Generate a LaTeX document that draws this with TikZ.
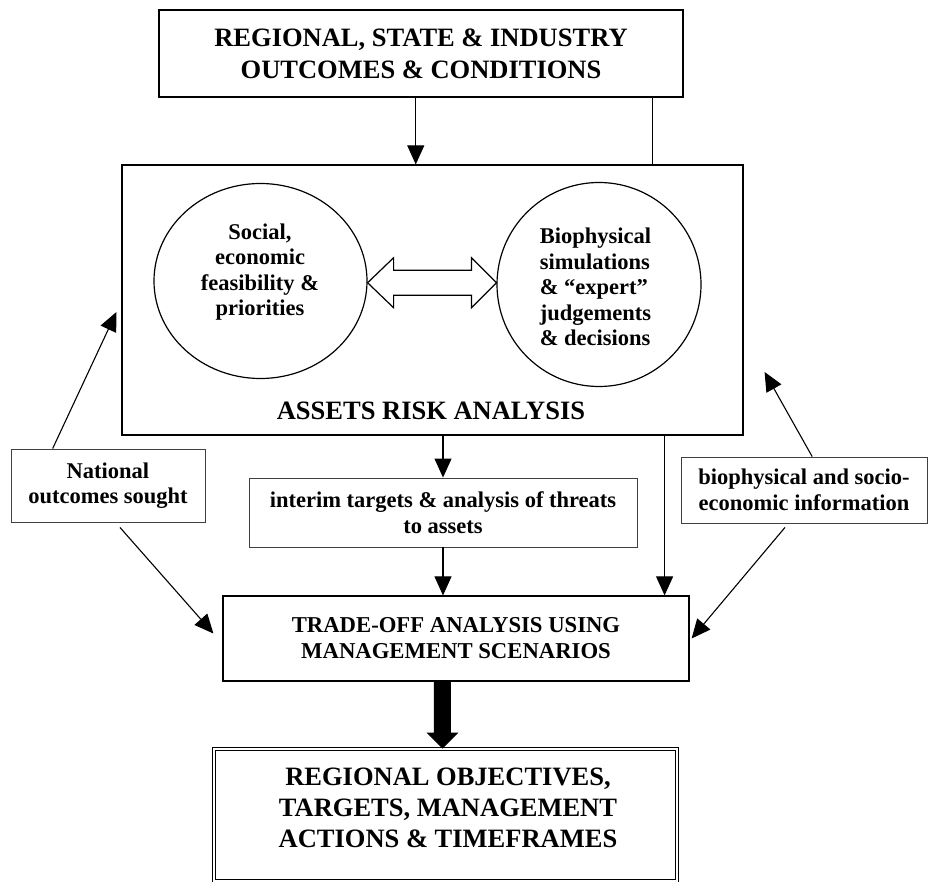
\documentclass[tikz,border=0pt]{standalone}
\usepackage{fontspec}
\setmainfont{Liberation Serif}
\usetikzlibrary{arrows.meta,calc,shapes.geometric}
\newcommand\ftitle{\bfseries\fontsize{26.5}{32}\selectfont}
\newcommand\fobj{\bfseries\fontsize{26.5}{31}\selectfont}
\newcommand\fmid{\bfseries\fontsize{22.7}{26}\selectfont}
\newcommand\fbody{\bfseries\fontsize{22.5}{25.5}\selectfont}
\begin{document}
\begin{tikzpicture}[x=1pt,y=-1pt,
  box/.style={draw, line width=1.2pt, inner sep=0pt, align=center},
  tbox/.style={draw=black!75, line width=0.9pt, inner sep=0pt, align=center, font=\fbody},
  txt/.style={inner sep=0pt, align=center},
  arr/.style={line width=1.1pt, -{Triangle[length=19pt,width=17pt]}},
  plain/.style={line width=1.1pt}]
\useasboundingbox (0,0) rectangle (928,882);
\clip (0,0) rectangle (928,882);

% top box
\node[box, minimum width=524pt, minimum height=87pt, font=\ftitle] (top) at (421,53.5)
  {REGIONAL, STATE \& INDUSTRY\\OUTCOMES \& CONDITIONS};

% asset risk analysis frame with its two circles
\node[box, minimum width=621pt, minimum height=270pt] (big) at (432.5,300) {};
\node[txt, font=\ftitle] (bigtxt) at (431,411) {ASSETS RISK ANALYSIS};

\node[draw, ellipse, line width=1.2pt, minimum width=213pt, minimum height=195pt, inner sep=0pt] (soc) at (260.5,281) {};
\node[txt, font=\fbody] (soctxt) at (260,272) {Social,\\economic\\feasibility \&\\priorities};
\node[draw, circle, line width=1.2pt, minimum size=204pt, inner sep=0pt] (bio) at (599,284.5) {};
\node[inner sep=0pt, align=left, font=\fbody] (biotxt) at (595.5,287) {Biophysical\\simulations\\\& “expert”\\judgements\\\& decisions};

% hollow double arrow between the circles
\coordinate (mid) at ($(soc.east)!0.5!(bio.west)$);
\coordinate (da) at (soc.east |- mid);
\coordinate (db) at (bio.west |- mid);
\draw[line width=1.2pt, fill=white] (da) -- ++(26,-25) -- ++(0,12.5) -- ($(db)+(-25,-12.5)$)
  -- ++(0,-12.5) -- (db) -- ++(-25,25) -- ++(0,-12.5) -- ($(da)+(26,12.5)$) -- ++(0,12.5) -- cycle;

% side and middle boxes
\node[tbox, minimum width=388pt, minimum height=69pt] (int) at (443,512.5)
  {interim targets \& analysis of threats\\to assets};
\node[tbox, minimum width=194pt, minimum height=73pt] (nat) at (108,485.5)
  {National\\outcomes sought};
\node[tbox, minimum width=246pt, minimum height=66pt] (inf) at (804,490)
  {biophysical and socio-\\economic information};

% trade-off box
\node[box, minimum width=466pt, minimum height=85pt, font=\fmid] (trade) at (456,638.5)
  {TRADE-OFF ANALYSIS USING\\MANAGEMENT SCENARIOS};

% objectives box with double frame
\node[draw, double, double distance=2.4pt, line width=1.1pt, minimum width=463pt,
  minimum height=132pt, inner sep=0pt] (obj) at (445.5,815) {};
\node[txt, font=\fobj] (objtxt) at (448,808)
  {REGIONAL OBJECTIVES,\\TARGETS, MANAGEMENT\\ACTIONS \& TIMEFRAMES};

% connectors
\coordinate (t1) at ($(top.south west)!0.49!(top.south east)$);
\coordinate (t2) at ($(top.south west)!0.94!(top.south east)$);
\draw[arr] (t1) -- (t1 |- big.north);
\draw[plain] (t2) -- (t2 |- big.north);

\coordinate (b1) at (int.north |- big.south);
\draw[arr] (b1) -- (int.north);
\draw[arr] (int.south) -- (int.south |- trade.north);

\coordinate (b2) at ($(big.south west)!0.873!(big.south east)$);
\draw[arr] (b2) -- (b2 |- trade.north);

\coordinate (n1) at ($(nat.north west)!0.216!(nat.north east)$);
\draw[arr] (n1) -- ($(big.west)+(-5,12)$);
\coordinate (n2) at ($(nat.south west)!0.546!(nat.south east)$);
\draw[arr] ($(n2)+(3,5)$) -- ($(trade.west)+(-9,-5)$);

\coordinate (i1) at ($(inf.north west)!0.533!(inf.north east)$);
\draw[arr] (i1) -- ($(big.east)+(21,72)$);
\coordinate (i2) at ($(inf.south west)!0.435!(inf.south east)$);
\draw[arr] ($(i2)+(-3,4)$) -- ($(trade.east)+(2,0)$);

% thick arrow into the objectives box
\coordinate (ts) at ($(trade.south west)!0.471!(trade.south east)$);
\fill ($(ts)+(-8.5,0)$) -- ++(17,0) -- ++(0,51) -- ++(7.5,0) -- ++(-16,16) -- ++(-16,-16) -- ++(7.5,0) -- cycle;
\end{tikzpicture}
\end{document}
